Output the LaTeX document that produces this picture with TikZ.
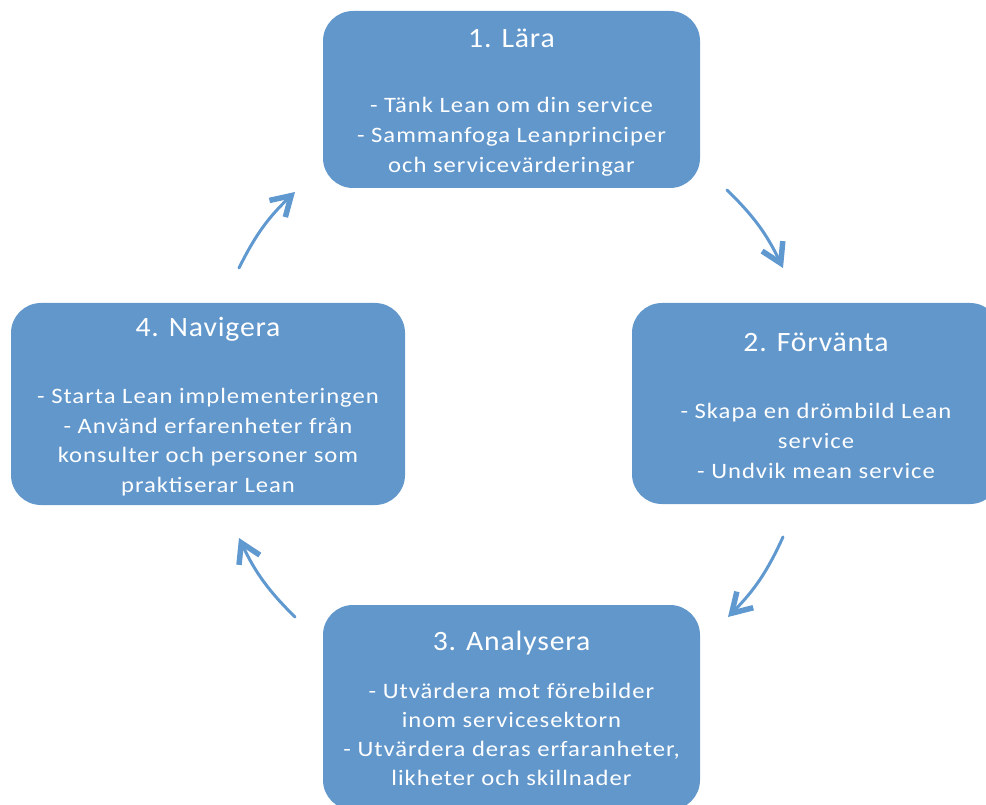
\documentclass[tikz,border=0pt]{standalone}
\usepackage{fontspec}
\setmainfont{Carlito}
\newfontfamily\ttlfont[FakeStretch=1.06,LetterSpace=3]{Carlito}
\newfontfamily\txtfont[FakeStretch=1.12,LetterSpace=4.5]{Carlito}
\usetikzlibrary{arrows.meta}
\definecolor{boxblue}{RGB}{98,151,203}
\definecolor{arrblue}{RGB}{96,152,208}
\tikzset{
  box/.style={fill=boxblue, draw=none, rounded corners=30pt, inner sep=0pt},
  ttl/.style={anchor=base, inner sep=0pt, text=white, font=\ttlfont\fontsize{28}{34}\selectfont},
  txt/.style={anchor=base, inner sep=0pt, text=white, font=\txtfont\fontsize{22}{30}\selectfont},
  cyc/.style={draw=arrblue, line width=3pt, line cap=round,
    -{Straight Barb[length=19pt,width=23pt,line width=5.5pt]}, bend left=10}
}
\begin{document}
\begin{tikzpicture}[x=1pt,y=-1pt]
\useasboundingbox (0,0) rectangle (986,805);
\clip (0,0) rectangle (986,805);
% boxes
\node[box, minimum width=377pt, minimum height=177pt] (b1) at (511.5,99.5) {};
\node[box, minimum width=368pt, minimum height=201pt] (b2) at (816,403.5) {};
\node[box, minimum width=377pt, minimum height=205pt] (b3) at (511.5,707.5) {};
\node[box, minimum width=394pt, minimum height=202pt] (b4) at (208,404) {};
% box 1
\node[ttl] (b1t) at (511.5,48) {1. Lära};
\node[txt] (b1a) at (511.5,113) {- Tänk Lean om din service};
\node[txt] (b1b) at (511.5,143) {- Sammanfoga Leanprinciper};
\node[txt] (b1c) at (511.5,173) {och servicevärderingar};
% box 2
\node[ttl] (b2t) at (816,352) {2. Förvänta};
\node[txt] (b2a) at (816,418) {- Skapa en drömbild Lean};
\node[txt] (b2b) at (816,448) {service};
\node[txt] (b2c) at (816,478) {- Undvik mean service};
% box 3
\node[ttl] (b3t) at (511.5,650) {3. Analysera};
\node[txt] (b3a) at (511.5,698) {- Utvärdera mot förebilder};
\node[txt] (b3b) at (511.5,727) {inom servicesektorn};
\node[txt] (b3c) at (511.5,756) {- Utvärdera deras erfaranheter,};
\node[txt] (b3d) at (511.5,785) {likheter och skillnader};
% box 4
\node[ttl] (b4t) at (208,337) {4. Navigera};
\node[txt] (b4a) at (208,403) {- Starta Lean implementeringen};
\node[txt] (b4b) at (208,433) {- Använd erfarenheter från};
\node[txt] (b4c) at (208,462) {konsulter och personer som};
\node[txt] (b4d) at (208,492) {praktiserar Lean};
% arrows
\coordinate (a1s) at (239,268); \coordinate (a1e) at (295,192);
\coordinate (a2s) at (727,190); \coordinate (a2e) at (783,268);
\coordinate (a3s) at (783,537); \coordinate (a3e) at (728,617);
\coordinate (a4s) at (295,617); \coordinate (a4e) at (239,538);
\draw[cyc] (a1s) to (a1e);
\draw[cyc] (a2s) to (a2e);
\draw[cyc] (a3s) to (a3e);
\draw[cyc] (a4s) to (a4e);
\end{tikzpicture}
\end{document}
